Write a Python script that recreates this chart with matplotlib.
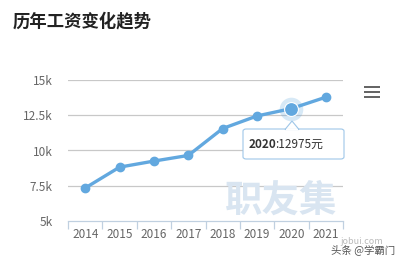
import matplotlib
matplotlib.use("Agg")
import matplotlib.pyplot as plt
from matplotlib.patches import FancyBboxPatch, Polygon, Rectangle

plt.rcParams["font.family"] = ["Noto Sans CJK SC", "DejaVu Sans"]

years = ["2014", "2015", "2016", "2017", "2018", "2019", "2020", "2021"]
salary = [7340, 8820, 9250, 9650, 11560, 12450, 12975, 13780]
y_ticks = [5000, 7500, 10000, 12500, 15000]
y_labels = ["5k", "7.5k", "10k", "12.5k", "15k"]
hl_idx = 6

LINE = "#62a8df"
TXT = "#666666"

fig = plt.figure(figsize=(4.01, 2.63), dpi=100)
ax = fig.add_axes([68 / 401, 42 / 263, 275 / 401, 141 / 263])

x = list(range(len(years)))
ax.plot(x, salary, color=LINE, lw=2.4, marker="o", ms=6,
        markerfacecolor=LINE, markeredgecolor=LINE, zorder=3, solid_capstyle="round")
# hovered point: halo + larger marker
ax.plot(x[hl_idx], salary[hl_idx], "o", ms=17, color=LINE, alpha=0.25,
        markeredgewidth=0, zorder=2)
ax.plot(x[hl_idx], salary[hl_idx], "o", ms=10, color=LINE,
        markeredgecolor="white", markeredgewidth=0.8, zorder=4)

ax.set_xlim(-0.5, len(years) - 0.5)
ax.set_ylim(5000, 15000)
for v in y_ticks[1:]:
    ax.axhline(v, color="#c8c8c8", lw=0.9, zorder=1)

ax.set_yticks(y_ticks)
ax.set_yticklabels(y_labels, fontsize=8.5, color=TXT)
ax.tick_params(axis="y", length=0, pad=11)
ax.set_xticks(x)
ax.set_xticklabels(years, fontsize=8.5, color=TXT)
ax.set_xticks([i - 0.5 for i in range(len(years) + 1)], minor=True)
ax.tick_params(axis="x", which="major", length=0, pad=5)
ax.tick_params(axis="x", which="minor", length=6, color="#c0d0e0", width=0.9)
for s in ["top", "right", "left"]:
    ax.spines[s].set_visible(False)
ax.spines["bottom"].set_color("#c0d0e0")
ax.spines["bottom"].set_linewidth(0.9)

# watermark
fig.text(281 / 401, 1 - 200 / 263, "职友集", fontsize=27, color="#d9e5f1",
         ha="center", va="center", fontweight="bold", zorder=0)

# tooltip
tx0, ty0, tw, th = 243, 129, 101, 30
box = FancyBboxPatch((tx0 / 401, 1 - (ty0 + th) / 263), tw / 401, th / 263,
                     boxstyle="round,pad=0,rounding_size=0.008",
                     transform=fig.transFigure, facecolor="white",
                     edgecolor="#9ec6e8", lw=0.8, zorder=10)
fig.patches.append(box)
tri = Polygon([(285 / 401, 1 - 129.5 / 263), (292 / 401, 1 - 121 / 263),
               (299 / 401, 1 - 129.5 / 263)], closed=True,
              transform=fig.transFigure, facecolor="white",
              edgecolor="#9ec6e8", lw=0.8, zorder=11)
fig.patches.append(tri)
fig.patches.append(Rectangle((286 / 401, 1 - 130.2 / 263), 12 / 401, 1.4 / 263,
                             transform=fig.transFigure, facecolor="white",
                             edgecolor="none", zorder=12))
t1 = fig.text(249 / 401, 1 - 144 / 263, years[hl_idx], fontsize=8.5,
              fontweight="bold", color="#333333", va="center", zorder=13)
fig.canvas.draw()
bb = t1.get_window_extent()
fig.text((bb.x1 - 1.5) / 401, 1 - 144 / 263, f":{salary[hl_idx]}元", fontsize=8.5,
         color="#333333", va="center", zorder=13)

# menu icon
for yy in (87, 92, 97):
    fig.patches.append(Rectangle((364 / 401, 1 - (yy + 1.4) / 263), 16 / 401,
                                 2.8 / 263, transform=fig.transFigure,
                                 facecolor="#666666", edgecolor="none"))

fig.text(13 / 401, 1 - 21 / 263, "历年工资变化趋势", fontsize=12.5,
         fontweight="bold", color="#222222", va="center")
fig.text(362 / 401, 1 - 241 / 263, "jobui.com", fontsize=6.5, color="#bbbbbb",
         ha="center", va="center")
fig.text(363 / 401, 1 - 250 / 263, "头条 @学霸门", fontsize=7.5, color="#555555",
         ha="center", va="center")

fig.savefig("out.png", dpi=100)
